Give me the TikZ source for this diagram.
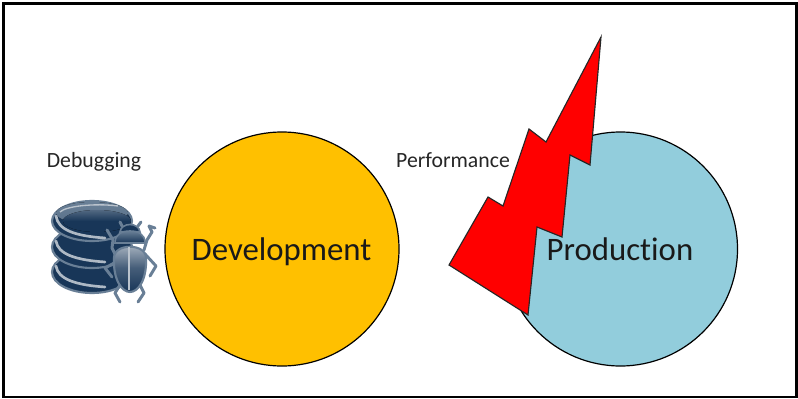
\documentclass[tikz,border=0pt]{standalone}
\usepackage{fontspec}
\setmainfont{Carlito}[Ligatures=NoCommon]
\usetikzlibrary{shadings}
\definecolor{navy}{RGB}{24,54,88}
\definecolor{rim}{RGB}{105,127,150}
\definecolor{gold}{RGB}{255,192,0}
\definecolor{skyb}{RGB}{146,205,220}
\tikzset{
  x=0.75pt,y=-0.75pt,
  circ/.style={draw=black,line width=0.9pt,circle,minimum size=175.5pt,inner sep=0pt},
  big/.style={font=\fontsize{24.6}{27}\selectfont,text=black!90,inner sep=0pt,anchor=base},
  small/.style={font=\fontsize{16.3}{18}\selectfont,text=black!85,inner sep=0pt,anchor=base},
  disc/.style={fill=navy,draw=rim,line width=1.6pt},
  leg/.style={draw=rim,line width=2.2pt,line cap=round,line join=round},
  sheen/.style={draw=white!65!navy,line width=2pt,line cap=round},
}
\begin{document}
\begin{tikzpicture}
\useasboundingbox (0,0) rectangle (798,399);
\fill[white] (0,0) rectangle (798,399);
\draw[line width=2.1pt,line join=miter] (3.5,3.5) -- (796.6,3.5) -- (796.6,397) -- (3.5,397) -- cycle;
\node[circ,fill=gold] (dev) at (282,249) {};
\node[circ,fill=skyb] (prod) at (620.5,249) {};
\filldraw[fill=red,draw=black!85,line width=0.85pt,line join=miter]
 (601,37) -- (590,165) -- (570,155) -- (562,237) -- (537,227) -- (528,315) -- (449,265) -- (488,197) -- (503,206) -- (529,129) -- (546,142) -- cycle;
\node[big] (devl) at (281.5,260) {Development};
\node[big] (prodl) at (620,260) {Production};
\node[small] (dbg) at (94,167.5) {Debugging};
\node[small] (perf) at (453,167.5) {Performance};
% database stack
\foreach \cy in {272,247}{
  \filldraw[disc] (92,\cy) ellipse[x radius=40,y radius=21];
  \draw[sheen] (56,\cy-6) .. controls (58,\cy+7) and (75,\cy+13) .. (105,\cy+15);
}
\filldraw[disc] (92,221) ellipse[x radius=40,y radius=20];
\fill[top color=rim,bottom color=rim!80!navy] (92,213) ellipse[x radius=36,y radius=11];
\fill[top color=navy!75!white,bottom color=navy,middle color=navy] (97,221) ellipse[x radius=34,y radius=11];
\draw[sheen] (56,216) .. controls (58,230) and (75,236) .. (105,238);
\draw[white!70!navy,line width=1pt] (60,212) .. controls (66,206) and (95,203) .. (118,206);
% beetle
\draw[leg] (116,256) -- (112,248) -- (113,240) -- (107,230);
\draw[leg] (116,262) -- (105,268) -- (112,277);
\draw[leg] (120,285) -- (115,293) -- (120,302);
\draw[leg] (144,250) -- (147,240) -- (152,232) -- (149,226) -- (155,228);
\draw[leg] (145,254) -- (156,266) -- (150,276);
\draw[leg] (140,285) -- (144,293) -- (138,302);
\draw[leg] (122,226) -- (120,222);
\draw[leg] (138,226) -- (141,222);
% head, thorax, wing cases
\filldraw[fill=navy,draw=rim,line width=1.2pt] (120,232) .. controls (121,222) and (139,222) .. (140,232) -- cycle;
\filldraw[top color=rim,bottom color=navy,draw=rim,line width=1.2pt] (115,243) .. controls (115,234) and (122,231) .. (130,231) .. controls (138,231) and (145,234) .. (145,243) -- cycle;
\filldraw[top color=white!65!navy,bottom color=navy,middle color=navy!80!white,draw=rim,line width=1.6pt] (114,258) .. controls (114,243) and (146,243) .. (146,258) .. controls (147,280) and (138,292) .. (130,292) .. controls (122,292) and (113,280) .. (114,258) -- cycle;
\draw[white!70!navy,line width=2pt] (129,247) -- (129,290);
\end{tikzpicture}
\end{document}
